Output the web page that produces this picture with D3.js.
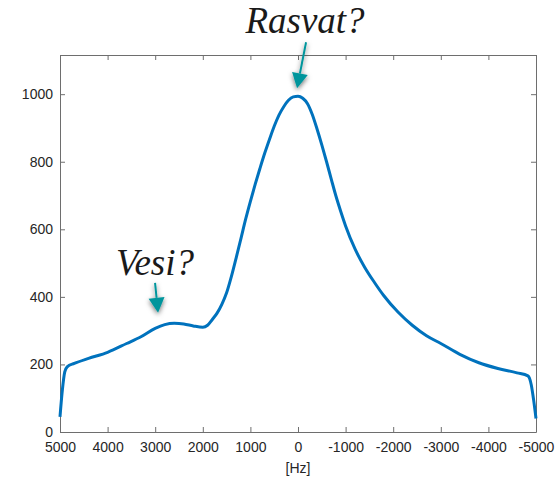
<!doctype html>
<html>
  <head>
    <meta charset="utf-8">
    <script src="https://cdn.jsdelivr.net/npm/d3@7"></script>
    <style>
      body { margin: 0; background: #fff; }
      .axis text { font-family: "Liberation Sans", Arial, sans-serif; font-size: 14px; fill: #262626; }
      .axis line, .axis path { stroke: #6e6e6e; }
      .note { font-family: "Liberation Serif", "DejaVu Serif", serif; font-style: italic; fill: #1a1a1a; }
    </style>
  </head>
  <body>
    <div id="chart"></div>
    <script>
      // spectrum
      const freqs = [5000, 4950, 4900, 4850, 4700, 4400, 4000, 3600, 3300, 3000, 2800, 2600, 2400, 2200, 2000,
        1900, 1800, 1700, 1600, 1500, 1400, 1300, 1200, 1100, 1000, 900, 800, 700, 600, 500, 400, 300, 200, 100,
        0, -100, -200, -300, -400, -500, -600, -700, -800, -900, -1000, -1200, -1400, -1600, -1800,
        -2100, -2400, -2700, -3000, -3400, -3800, -4200, -4600, -4830, -4900, -4950, -5000];
      const amps = [45, 125, 178, 193, 203, 218, 236, 262, 282, 307, 318, 322, 320, 314, 310,
        316, 333, 352, 378, 412, 460, 515, 572, 630, 683, 733, 780, 825, 866, 905, 938, 963, 982, 992,
        994, 988, 972, 940, 897, 850, 800, 748, 697, 652, 610, 541, 488, 444, 404,
        355, 316, 285, 262, 230, 205, 188, 175, 166, 140, 95, 40];
      const xTicks = [5000, 4000, 3000, 2000, 1000, 0, -1000, -2000, -3000, -4000, -5000];
      const yTicks = [0, 200, 400, 600, 800, 1000];
      const noteLabels = ["Rasvat?", "Vesi?"];
      const noteFreqs = [20, 2940];
      const noteAmps = [1000, 335];

      (function() {
        const width = 558, height = 478,
          mLeft = 60, mRight = 536, mTop = 55, mBottom = 432;

        const x = d3.scaleLinear().domain([5000, -5000]).range([mLeft, mRight]);
        const y = d3.scaleLinear().domain([0, 1116]).range([mBottom, mTop]);

        const svg = d3.select("#chart").append("svg")
          .attr("width", width)
          .attr("height", height);

        svg.append("defs").append("filter")
            .attr("id", "shadow")
            .attr("x", "-100%").attr("y", "-100%")
            .attr("width", "300%").attr("height", "300%")
          .append("feDropShadow")
            .attr("dx", 0).attr("dy", 2)
            .attr("stdDeviation", 2.5)
            .attr("flood-color", "#000")
            .attr("flood-opacity", 0.55);

        const plain = d => String(d);

        // box with inward ticks on all four sides
        svg.append("g")
          .attr("class", "axis")
          .attr("transform", "translate(0," + mBottom + ")")
          .call(d3.axisBottom(x).tickValues(xTicks).tickFormat(plain).tickSize(-5).tickSizeOuter(0).tickPadding(10));

        svg.append("g")
          .attr("class", "axis")
          .attr("transform", "translate(0," + mTop + ")")
          .call(d3.axisTop(x).tickValues(xTicks).tickFormat("").tickSize(-5).tickSizeOuter(0));

        svg.append("g")
          .attr("class", "axis")
          .attr("transform", "translate(" + mLeft + ",0)")
          .call(d3.axisLeft(y).tickValues(yTicks).tickFormat(plain).tickSize(-5).tickSizeOuter(0).tickPadding(7));

        svg.append("g")
          .attr("class", "axis")
          .attr("transform", "translate(" + mRight + ",0)")
          .call(d3.axisRight(y).tickValues(yTicks).tickFormat("").tickSize(-5).tickSizeOuter(0));

        svg.selectAll(".axis").attr("font-size", null).attr("font-family", null);

        svg.append("text")
          .attr("x", x(0))
          .attr("y", 473)
          .attr("text-anchor", "middle")
          .style("font-family", "'Liberation Sans', Arial, sans-serif")
          .style("font-size", "14px")
          .style("fill", "#262626")
          .text("[Hz]");

        const data = freqs.map((f, i) => [f, amps[i]]);

        svg.append("path")
          .datum(data)
          .attr("fill", "none")
          .attr("stroke", "#0072BD")
          .attr("stroke-width", 3)
          .attr("stroke-linejoin", "round")
          .attr("d", d3.line()
            .x(d => x(d[0]))
            .y(d => y(d[1]))
            .curve(d3.curveMonotoneX));

        // annotations: text, then an arrow down to the feature
        const teal = "#00959c";
        const textPos = [[305, 33], [155, 275]];
        const arrowStart = [[9, -46], [-3, -30]];

        noteLabels.forEach((label, i) => {
          svg.append("text")
            .attr("class", "note")
            .attr("x", textPos[i][0])
            .attr("y", textPos[i][1])
            .attr("text-anchor", "middle")
            .attr("font-size", 37)
            .text(label);

          const tipX = x(noteFreqs[i]), tipY = y(noteAmps[i]) - 6;
          const startX = tipX + arrowStart[i][0], startY = tipY + arrowStart[i][1];
          const ang = Math.atan2(tipY - startY, tipX - startX);
          const hl = 15, hw = 8;
          const bx = tipX - hl * Math.cos(ang), by = tipY - hl * Math.sin(ang);
          const px = -Math.sin(ang) * hw, py = Math.cos(ang) * hw;

          const g = svg.append("g").attr("filter", "url(#shadow)");
          g.append("line")
            .attr("x1", startX).attr("y1", startY)
            .attr("x2", bx).attr("y2", by)
            .attr("stroke", teal)
            .attr("stroke-width", 2);
          g.append("path")
            .attr("d", "M" + tipX + "," + tipY + "L" + (bx + px) + "," + (by + py) + "L" + (bx - px) + "," + (by - py) + "Z")
            .attr("fill", teal);
        });
      })();
    </script>
  </body>
</html>
